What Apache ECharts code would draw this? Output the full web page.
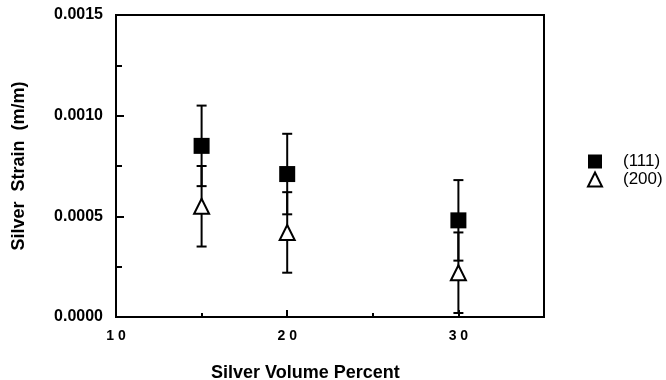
<!DOCTYPE html>
<html>
<head>
<meta charset="utf-8">
<title>Silver Strain</title>
<script src="https://cdn.jsdelivr.net/npm/echarts@6/dist/echarts.min.js"></script>
<style>
  html, body { margin: 0; padding: 0; background: #fff; }
  #chart { width: 666px; height: 380px; }
</style>
</head>
<body>
<div id="chart"></div>
<script>
// 数据
var volumePercent = [15, 20, 30];
var strain111 = [0.00085, 0.00071, 0.00048];
var strain200 = [0.00055, 0.00042, 0.00022];
var err111 = [0.0002, 0.0002, 0.0002];
var err200 = [0.0002, 0.0002, 0.0002];
var seriesNames = ['(111)', '(200)'];

(function() {
  'use strict';

  var FONT = '"Liberation Sans", Arial, sans-serif';

  /**
   * 误差棒数据 [x, low, high]
   */
  function errorData(values, errs) {
    return volumePercent.map(function(x, i) {
      return [x, values[i] - errs[i], values[i] + errs[i]];
    });
  }

  /**
   * 画误差棒（竖线 + 两端横线）
   */
  function renderErrorBar(params, api) {
    var x = api.value(0);
    var lo = api.coord([x, api.value(1)]);
    var hi = api.coord([x, api.value(2)]);
    var half = 5;
    var style = { stroke: '#000', lineWidth: 2 };
    return {
      type: 'group',
      children: [
        { type: 'line', shape: { x1: lo[0], y1: lo[1], x2: hi[0], y2: hi[1] }, style: style },
        { type: 'line', shape: { x1: lo[0] - half, y1: lo[1], x2: lo[0] + half, y2: lo[1] }, style: style },
        { type: 'line', shape: { x1: hi[0] - half, y1: hi[1], x2: hi[0] + half, y2: hi[1] }, style: style }
      ]
    };
  }

  function pairs(values) {
    return volumePercent.map(function(x, i) { return [x, values[i]]; });
  }

  var chart = echarts.init(document.getElementById('chart'));

  var option = {
    animation: false,
    backgroundColor: '#fff',
    grid: {
      left: 116, right: 122, top: 15, bottom: 63,
      show: true, borderColor: '#000', borderWidth: 2
    },
    title: {
      text: 'Silver Volume Percent',
      left: 206, top: 359,
      textStyle: { fontFamily: FONT, fontSize: 18, fontWeight: 'bold', color: '#000' }
    },
    legend: {
      orient: 'vertical',
      left: 582, top: 148,
      itemWidth: 14, itemHeight: 14, itemGap: 1,
      data: [
        { name: seriesNames[0], icon: 'rect' },
        { name: seriesNames[1], icon: 'triangle' }
      ],
      textStyle: { fontFamily: FONT, fontSize: 17, color: '#000', padding: [0, 0, 0, 16] }
    },
    xAxis: {
      type: 'value',
      min: 10, max: 35, interval: 10,
      axisLine: { lineStyle: { color: '#000', width: 2 } },
      axisTick: { inside: true, length: 7, lineStyle: { color: '#000', width: 2 } },
      minorTick: { show: true, splitNumber: 2, length: 4, lineStyle: { color: '#000', width: 2 } },
      splitLine: { show: false },
      axisLabel: {
        margin: 12, showMaxLabel: false,
        fontFamily: FONT, fontSize: 14, fontWeight: 'bold', color: '#000',
        formatter: function(v) { return String(v).split('').join(' '); }
      }
    },
    yAxis: {
      type: 'value',
      min: 0, max: 0.0015, interval: 0.0005,
      name: 'Silver  Strain  (m/m)',
      nameLocation: 'middle', nameGap: 88,
      nameTextStyle: { fontFamily: FONT, fontSize: 18, fontWeight: 'bold', color: '#000' },
      axisLine: { lineStyle: { color: '#000', width: 2 } },
      axisTick: { inside: true, length: 8, lineStyle: { color: '#000', width: 2 } },
      minorTick: { show: true, splitNumber: 2, length: 6, lineStyle: { color: '#000', width: 2 } },
      splitLine: { show: false },
      axisLabel: {
        margin: 13,
        fontFamily: FONT, fontSize: 16, fontWeight: 'bold', color: '#000',
        formatter: function(v) { return v.toFixed(4); }
      }
    },
    series: [
      {
        name: 'err111', type: 'custom', z: 1,
        renderItem: renderErrorBar,
        data: errorData(strain111, err111)
      },
      {
        name: 'err200', type: 'custom', z: 1,
        renderItem: renderErrorBar,
        data: errorData(strain200, err200)
      },
      {
        name: seriesNames[0], type: 'scatter', z: 3,
        symbol: 'rect', symbolSize: 16,
        itemStyle: { color: '#000', opacity: 1 },
        data: pairs(strain111)
      },
      {
        name: seriesNames[1], type: 'scatter', z: 3,
        symbol: 'triangle', symbolSize: 15,
        itemStyle: { color: '#fff', borderColor: '#000', borderWidth: 2, opacity: 1 },
        data: pairs(strain200)
      }
    ]
  };

  chart.setOption(option);
})();
</script>
</body>
</html>
